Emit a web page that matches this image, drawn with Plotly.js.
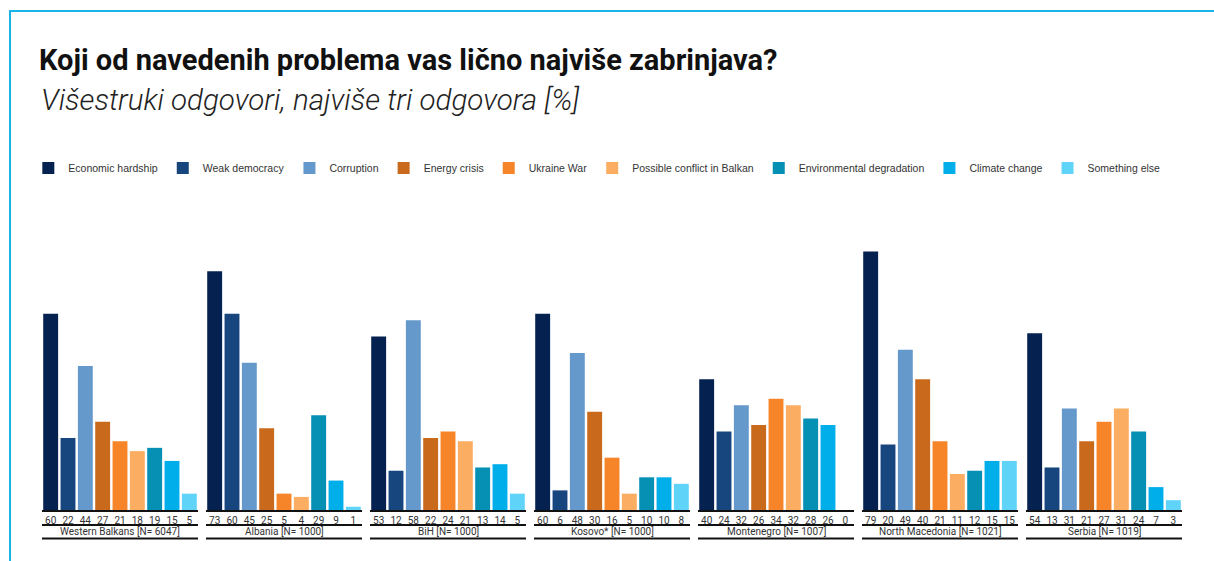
<!DOCTYPE html>
<html>
<head>
<meta charset="utf-8">
<script src="https://cdn.plot.ly/plotly-3.0.1.min.js"></script>
<style>
  html, body { margin: 0; padding: 0; background: #fff; }
  #wrap { position: relative; width: 1214px; height: 561px; overflow: hidden; }
  #chart { width: 1214px; height: 561px; }
  #frame { position: absolute; left: 9px; top: 10px; right: 0; bottom: 0;
           border-top: 2.5px solid #1ab3ea; border-left: 2.5px solid #1ab3ea; pointer-events: none; }
</style>
</head>
<body>
<div id="wrap">
  <div id="chart"></div>
  <div id="frame"></div>
</div>
<script>
// ---- data ----
const groups = ['Western Balkans [N= 6047]', 'Albania [N= 1000]', 'BiH [N= 1000]', 'Kosovo* [N= 1000]',
                'Montenegro [N= 1007]', 'North Macedonia [N= 1021]', 'Serbia [N= 1019]'];
const seriesNames = ['Economic hardship', 'Weak democracy', 'Corruption', 'Energy crisis', 'Ukraine War',
                     'Possible conflict in Balkan', 'Environmental degradation', 'Climate change', 'Something else'];
const economicHardship = [60, 73, 53, 60, 40, 79, 54];
const weakDemocracy    = [22, 60, 12,  6, 24, 20, 13];
const corruption       = [44, 45, 58, 48, 32, 49, 31];
const energyCrisis     = [27, 25, 22, 30, 26, 40, 21];
const ukraineWar       = [21,  5, 24, 16, 34, 21, 27];
const conflictBalkan   = [18,  4, 21,  5, 32, 11, 31];
const environmental    = [19, 29, 13, 10, 28, 12, 24];
const climateChange    = [15,  9, 14, 10, 26, 15,  7];
const somethingElse    = [ 5,  1,  5,  8,  0, 15,  3];
const seriesValues = [economicHardship, weakDemocracy, corruption, energyCrisis, ukraineWar,
                      conflictBalkan, environmental, climateChange, somethingElse];
const colors = ['#04214f', '#17467f', '#6699cb', '#c9691b', '#f58528', '#fbad62', '#0690b4', '#00aeea', '#5fd4f8'];

// ---- layout geometry ----
const plotLeft = 42, plotWidth = 1140, groupW = 156, groupGap = 8, plotH = 264;
const data = [];
const layout = {
  width: 1214, height: 561,
  margin: {l: plotLeft, r: 1214 - plotLeft - plotWidth, t: 246, b: 51, pad: 0},
  paper_bgcolor: '#fff', plot_bgcolor: '#fff',
  barmode: 'overlay',
  showlegend: true,
  title: {
    text: 'Koji od navedenih problema vas lično najviše zabrinjava?',
    font: {family: 'Roboto', size: 29, weight: 700, color: '#111'},
    x: 39 / 1214, xanchor: 'left', xref: 'container',
    y: 1 - 60 / 561, yanchor: 'middle', yref: 'container'
  },
  legend: {
    orientation: 'h', x: -0.012, xanchor: 'left', y: (510 - 168) / plotH, yanchor: 'middle',
    font: {family: 'Liberation Sans, Arial', size: 10.5, color: '#333'},
    itemwidth: 30, traceorder: 'normal', bgcolor: 'rgba(0,0,0,0)'
  },
  yaxis: {range: [0, 80.7], visible: false, fixedrange: true},
  annotations: [{
    text: 'Višestruki odgovori, najviše tri odgovora [%]',
    xref: 'paper', yref: 'paper', x: (39 - plotLeft) / plotWidth, y: (510 - 100) / plotH,
    xanchor: 'left', yanchor: 'middle', showarrow: false,
    font: {family: 'Roboto', size: 29.5, weight: 300, style: 'italic', color: '#222'}
  }],
  shapes: []
};

groups.forEach((g, gi) => {
  const axName = gi === 0 ? 'x' : 'x' + (gi + 1);
  const axKey = gi === 0 ? 'xaxis' : 'xaxis' + (gi + 1);
  const d0 = (gi * (groupW + groupGap)) / plotWidth;
  const d1 = (gi * (groupW + groupGap) + groupW) / plotWidth;
  layout[axKey] = {
    domain: [d0, d1], anchor: 'y', range: [-0.5, seriesNames.length - 0.5],
    tickvals: seriesNames.map((_, i) => i),
    ticktext: seriesValues.map(v => String(v[gi])),
    showgrid: false, zeroline: false, showline: true, linecolor: '#111', linewidth: 2,
    ticks: '', ticklen: 0,
    tickfont: {family: 'Roboto', size: 10, color: '#333'}, fixedrange: true
  };
  seriesNames.forEach((s, si) => {
    data.push({
      type: 'bar', name: s, x: [si], y: [seriesValues[si][gi]], width: 0.86,
      xaxis: axName, yaxis: 'y', marker: {color: colors[si], line: {width: 0}},
      legendgroup: s, showlegend: gi === 0,
      hovertemplate: g + '<br>' + s + ': %{y}<extra></extra>'
    });
  });
  const dom = gi === 0 ? 'x domain' : 'x' + (gi + 1) + ' domain';
  layout.shapes.push({type: 'line', xref: dom, yref: 'paper', x0: 0, x1: 1, y0: -15 / plotH, y1: -15 / plotH,
                      line: {color: '#111', width: 2}});
  layout.shapes.push({type: 'line', xref: dom, yref: 'paper', x0: 0, x1: 1, y0: -28.5 / plotH, y1: -28.5 / plotH,
                      line: {color: '#111', width: 2}});
  layout.annotations.push({
    text: g, xref: dom, yref: 'paper', x: 0.5, y: -21.8 / plotH, xanchor: 'center', yanchor: 'middle',
    showarrow: false, font: {family: 'Roboto', size: 10, color: '#333'}
  });
});

Plotly.newPlot('chart', data, layout, {displayModeBar: false});
</script>
</body>
</html>
